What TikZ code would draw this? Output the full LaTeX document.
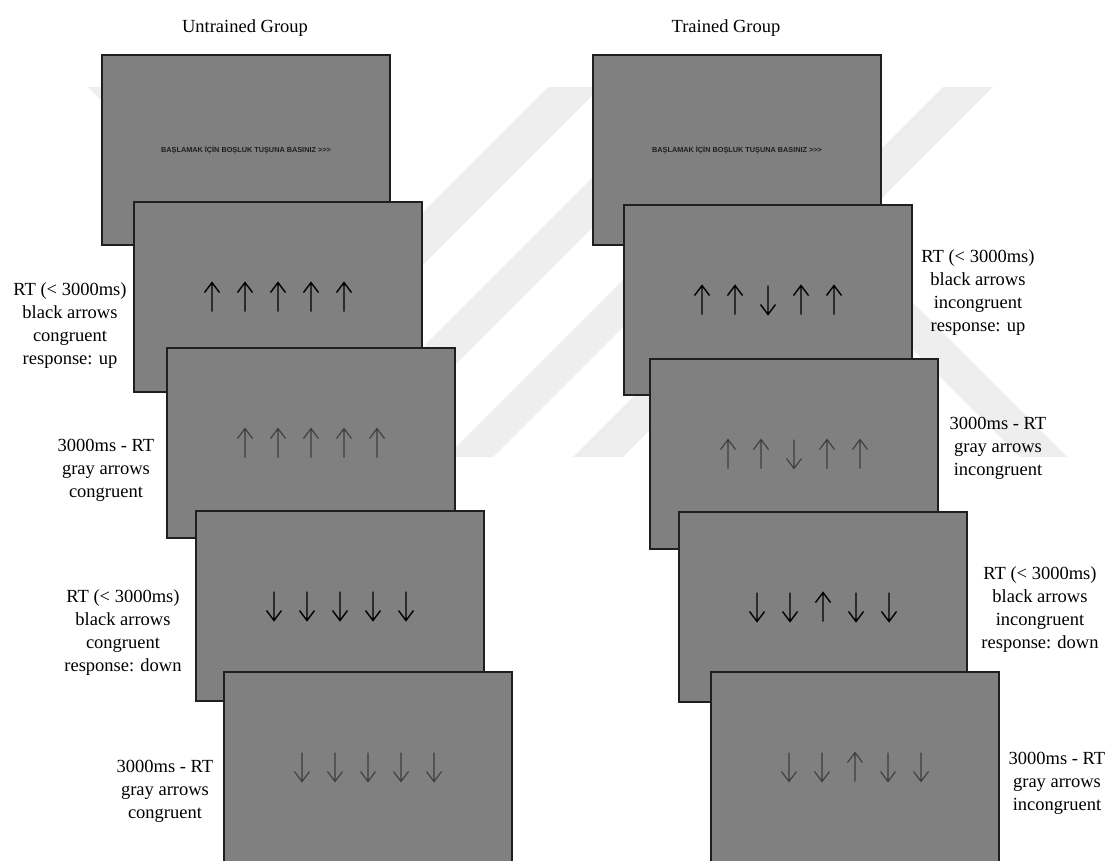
\documentclass[tikz,border=0pt]{standalone}
\usepackage{fontspec}
\setmainfont{Liberation Serif}
\newfontfamily\promptfont{Liberation Sans}
\definecolor{scrgray}{gray}{0.5}
\definecolor{frame}{gray}{0.12}
\definecolor{dimarrow}{gray}{0.24}
\definecolor{wmark}{gray}{0.935}
\tikzset{
  screen/.style={draw=frame, line width=1.3pt, fill=scrgray, minimum width=288pt,
    minimum height=190pt, inner sep=0pt, outer sep=0pt, anchor=north west},
  lab/.style={align=center, inner sep=0pt, font=\fontsize{18.5}{23}\selectfont},
  grouptitle/.style={inner sep=0pt, font=\fontsize{18.5}{22}\selectfont},
  prompt/.style={inner sep=0pt, text=frame, font=\promptfont\bfseries\fontsize{7.3}{8}\selectfont},
  blackarr/.style={color=black, line width=1.4pt},
  grayarr/.style={color=dimarrow, line width=1.1pt},
  upa/.pic={\draw (0,14.5) -- (0,-14.5) (-7.5,-4.5) -- (0,-14.5) -- (7.5,-4.5);},
  dna/.pic={\draw (0,-14.5) -- (0,14.5) (-7.5,4.5) -- (0,14.5) -- (7.5,4.5);},
}
\begin{document}
\begin{tikzpicture}[x=1pt,y=-1pt]
\useasboundingbox (0,0) rectangle (1109,860);
\clip (0,0) rectangle (1109,860);

% faint background emblem made of diagonal bars
\begin{scope}
  \clip (0,87) rectangle (1109,457);
  % rising bars, bounded by x+y = a and x+y = b
  \foreach \a/\b in {635/688, 770/820, 903/950, 1030/1080}
    \fill[wmark] (\a-87,87) -- (\b-87,87) -- (\b-457,457) -- (\a-457,457) -- cycle;
  % falling bar on the right, bounded by x-y = 563 and x-y = 610
  \fill[wmark] (650,87) -- (697,87) -- (1067,457) -- (1020,457) -- cycle;
  % short falling bar at the upper left
  \fill[wmark] (88,87) -- (136,87) -- (250,201) -- (202,201) -- cycle;
\end{scope}

% group titles
\node[grouptitle] (tU) at (245,28) {Untrained Group};
\node[grouptitle] (tT) at (726,28) {Trained Group};

% untrained group screens
\node[screen] (L0) at (102,55) {};
\node[prompt] at (L0.center) {BAŞLAMAK İÇİN BOŞLUK TUŞUNA BASINIZ >>>};
\node[screen] (L1) at (134,202) {};
\foreach \dx/\t in {-66/upa,-33/upa,0/upa,33/upa,66/upa}
  \pic[blackarr] at ([xshift=\dx pt]L1.center) {\t};
\node[screen] (L2) at (167,348) {};
\foreach \dx/\t in {-66/upa,-33/upa,0/upa,33/upa,66/upa}
  \pic[grayarr] at ([xshift=\dx pt]L2.center) {\t};
\node[screen] (L3) at (196,511) {};
\foreach \dx/\t in {-66/dna,-33/dna,0/dna,33/dna,66/dna}
  \pic[blackarr] at ([xshift=\dx pt]L3.center) {\t};
\node[screen] (L4) at (224,672) {};
\foreach \dx/\t in {-66/dna,-33/dna,0/dna,33/dna,66/dna}
  \pic[grayarr] at ([xshift=\dx pt]L4.center) {\t};

% trained group screens
\node[screen] (R0) at (593,55) {};
\node[prompt] at (R0.center) {BAŞLAMAK İÇİN BOŞLUK TUŞUNA BASINIZ >>>};
\node[screen] (R1) at (624,205) {};
\foreach \dx/\t in {-66/upa,-33/upa,0/dna,33/upa,66/upa}
  \pic[blackarr] at ([xshift=\dx pt]R1.center) {\t};
\node[screen] (R2) at (650,359) {};
\foreach \dx/\t in {-66/upa,-33/upa,0/dna,33/upa,66/upa}
  \pic[grayarr] at ([xshift=\dx pt]R2.center) {\t};
\node[screen] (R3) at (679,512) {};
\foreach \dx/\t in {-66/dna,-33/dna,0/upa,33/dna,66/dna}
  \pic[blackarr] at ([xshift=\dx pt]R3.center) {\t};
\node[screen] (R4) at (711,672) {};
\foreach \dx/\t in {-66/dna,-33/dna,0/upa,33/dna,66/dna}
  \pic[grayarr] at ([xshift=\dx pt]R4.center) {\t};

% trial descriptions
\node[lab] (dL1) at (70,326) {RT (< 3000ms)\\black arrows\\congruent\\response: up};
\node[lab] (dL2) at (106,470) {3000ms - RT\\gray arrows\\congruent};
\node[lab] (dL3) at (123,633) {RT (< 3000ms)\\black arrows\\congruent\\response: down};
\node[lab] (dL4) at (165,791) {3000ms - RT\\gray arrows\\congruent};
\node[lab] (dR1) at (978,293) {RT (< 3000ms)\\black arrows\\incongruent\\response: up};
\node[lab] (dR2) at (998,448) {3000ms - RT\\gray arrows\\incongruent};
\node[lab] (dR3) at (1040,610) {RT (< 3000ms)\\black arrows\\incongruent\\response: down};
\node[lab] (dR4) at (1057,783) {3000ms - RT\\gray arrows\\incongruent};
\end{tikzpicture}
\end{document}
